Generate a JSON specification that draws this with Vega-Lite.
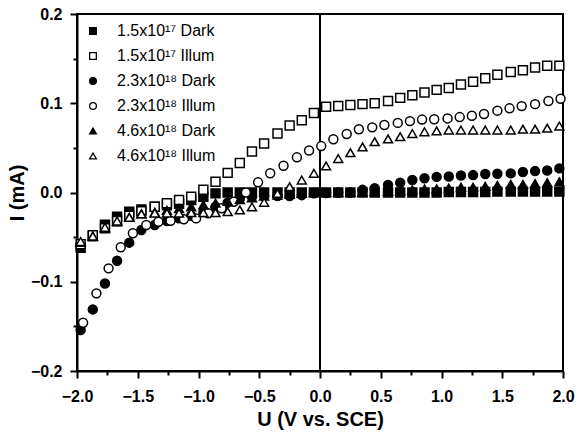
{
  "$schema": "https://vega.github.io/schema/vega-lite/v6.json",
  "autosize": {"type": "none"},
  "padding": {"left": 77, "top": 14, "right": 15, "bottom": 63},
  "width": 486,
  "height": 357,
  "config": {
    "view": {"stroke": "black", "strokeWidth": 2},
    "font": "Liberation Sans",
    "axis": {"grid": false, "labelFlush": false, "labelOverlap": false, "domainColor": "black", "domainWidth": 2, "tickColor": "black", "tickWidth": 2, "labelColor": "black", "titleColor": "black", "labelFont": "Liberation Sans", "titleFont": "Liberation Sans", "labelFontWeight": "bold", "titleFontWeight": "bold", "labelFontSize": 16, "titleFontSize": 20},
    "legend": {"orient": "none", "legendX": 8, "legendY": 9, "padding": 0, "title": null, "symbolSize": 45, "symbolStrokeColor": "black", "symbolStrokeWidth": 1.3, "labelFontSize": 16, "labelFont": "Liberation Sans", "labelColor": "black", "labelOffset": 16, "rowPadding": 9}
  },
  "datasets": {
    "vline": [{"u": 0, "lo": -0.2, "hi": 0.2}],
    "iv": [
      {"s":"1.5x10¹⁷ Dark","u":-1.97,"i":-0.062},{"s":"1.5x10¹⁷ Dark","u":-1.87,"i":-0.049},{"s":"1.5x10¹⁷ Dark","u":-1.77,"i":-0.036},{"s":"1.5x10¹⁷ Dark","u":-1.67,"i":-0.027},{"s":"1.5x10¹⁷ Dark","u":-1.57,"i":-0.0215},{"s":"1.5x10¹⁷ Dark","u":-1.47,"i":-0.019},{"s":"1.5x10¹⁷ Dark","u":-1.36,"i":-0.016},{"s":"1.5x10¹⁷ Dark","u":-1.26,"i":-0.0144},{"s":"1.5x10¹⁷ Dark","u":-1.16,"i":-0.0127},{"s":"1.5x10¹⁷ Dark","u":-1.06,"i":-0.0084},{"s":"1.5x10¹⁷ Dark","u":-0.96,"i":-0.0047},{"s":"1.5x10¹⁷ Dark","u":-0.86,"i":-0.001},{"s":"1.5x10¹⁷ Dark","u":-0.76,"i":0.0},{"s":"1.5x10¹⁷ Dark","u":-0.66,"i":0.0},{"s":"1.5x10¹⁷ Dark","u":-0.56,"i":0.0},{"s":"1.5x10¹⁷ Dark","u":-0.46,"i":0.0},{"s":"1.5x10¹⁷ Dark","u":-0.35,"i":0.0},{"s":"1.5x10¹⁷ Dark","u":-0.25,"i":0.0},{"s":"1.5x10¹⁷ Dark","u":-0.15,"i":0.0},{"s":"1.5x10¹⁷ Dark","u":-0.05,"i":0.0},{"s":"1.5x10¹⁷ Dark","u":0.05,"i":0.0},{"s":"1.5x10¹⁷ Dark","u":0.15,"i":0.0},{"s":"1.5x10¹⁷ Dark","u":0.25,"i":0.0},{"s":"1.5x10¹⁷ Dark","u":0.35,"i":0.0},{"s":"1.5x10¹⁷ Dark","u":0.45,"i":0.0},{"s":"1.5x10¹⁷ Dark","u":0.56,"i":0.0},{"s":"1.5x10¹⁷ Dark","u":0.66,"i":0.0},{"s":"1.5x10¹⁷ Dark","u":0.76,"i":0.0},{"s":"1.5x10¹⁷ Dark","u":0.86,"i":0.0},{"s":"1.5x10¹⁷ Dark","u":0.96,"i":0.0},{"s":"1.5x10¹⁷ Dark","u":1.06,"i":0.0005},{"s":"1.5x10¹⁷ Dark","u":1.16,"i":0.0005},{"s":"1.5x10¹⁷ Dark","u":1.26,"i":0.0005},{"s":"1.5x10¹⁷ Dark","u":1.36,"i":0.0005},{"s":"1.5x10¹⁷ Dark","u":1.46,"i":0.001},{"s":"1.5x10¹⁷ Dark","u":1.57,"i":0.001},{"s":"1.5x10¹⁷ Dark","u":1.67,"i":0.001},{"s":"1.5x10¹⁷ Dark","u":1.77,"i":0.001},{"s":"1.5x10¹⁷ Dark","u":1.87,"i":0.001},{"s":"1.5x10¹⁷ Dark","u":1.97,"i":0.001},
      {"s":"1.5x10¹⁷ Illum","u":-1.97,"i":-0.058},{"s":"1.5x10¹⁷ Illum","u":-1.87,"i":-0.048},{"s":"1.5x10¹⁷ Illum","u":-1.77,"i":-0.04},{"s":"1.5x10¹⁷ Illum","u":-1.67,"i":-0.032},{"s":"1.5x10¹⁷ Illum","u":-1.57,"i":-0.026},{"s":"1.5x10¹⁷ Illum","u":-1.47,"i":-0.021},{"s":"1.5x10¹⁷ Illum","u":-1.36,"i":-0.016},{"s":"1.5x10¹⁷ Illum","u":-1.26,"i":-0.012},{"s":"1.5x10¹⁷ Illum","u":-1.16,"i":-0.0084},{"s":"1.5x10¹⁷ Illum","u":-1.06,"i":-0.0047},{"s":"1.5x10¹⁷ Illum","u":-0.96,"i":0.003},{"s":"1.5x10¹⁷ Illum","u":-0.86,"i":0.012},{"s":"1.5x10¹⁷ Illum","u":-0.76,"i":0.022},{"s":"1.5x10¹⁷ Illum","u":-0.66,"i":0.033},{"s":"1.5x10¹⁷ Illum","u":-0.56,"i":0.046},{"s":"1.5x10¹⁷ Illum","u":-0.46,"i":0.055},{"s":"1.5x10¹⁷ Illum","u":-0.35,"i":0.066},{"s":"1.5x10¹⁷ Illum","u":-0.25,"i":0.075},{"s":"1.5x10¹⁷ Illum","u":-0.15,"i":0.081},{"s":"1.5x10¹⁷ Illum","u":-0.05,"i":0.089},{"s":"1.5x10¹⁷ Illum","u":0.05,"i":0.096},{"s":"1.5x10¹⁷ Illum","u":0.15,"i":0.097},{"s":"1.5x10¹⁷ Illum","u":0.25,"i":0.098},{"s":"1.5x10¹⁷ Illum","u":0.35,"i":0.099},{"s":"1.5x10¹⁷ Illum","u":0.45,"i":0.1},{"s":"1.5x10¹⁷ Illum","u":0.56,"i":0.1025},{"s":"1.5x10¹⁷ Illum","u":0.66,"i":0.106},{"s":"1.5x10¹⁷ Illum","u":0.76,"i":0.109},{"s":"1.5x10¹⁷ Illum","u":0.86,"i":0.112},{"s":"1.5x10¹⁷ Illum","u":0.96,"i":0.115},{"s":"1.5x10¹⁷ Illum","u":1.06,"i":0.117},{"s":"1.5x10¹⁷ Illum","u":1.16,"i":0.121},{"s":"1.5x10¹⁷ Illum","u":1.26,"i":0.124},{"s":"1.5x10¹⁷ Illum","u":1.36,"i":0.128},{"s":"1.5x10¹⁷ Illum","u":1.46,"i":0.132},{"s":"1.5x10¹⁷ Illum","u":1.57,"i":0.135},{"s":"1.5x10¹⁷ Illum","u":1.67,"i":0.137},{"s":"1.5x10¹⁷ Illum","u":1.77,"i":0.14},{"s":"1.5x10¹⁷ Illum","u":1.87,"i":0.142},{"s":"1.5x10¹⁷ Illum","u":1.97,"i":0.142},
      {"s":"2.3x10¹⁸ Dark","u":-1.97,"i":-0.154},{"s":"2.3x10¹⁸ Dark","u":-1.87,"i":-0.131},{"s":"2.3x10¹⁸ Dark","u":-1.77,"i":-0.102},{"s":"2.3x10¹⁸ Dark","u":-1.67,"i":-0.0764},{"s":"2.3x10¹⁸ Dark","u":-1.57,"i":-0.0562},{"s":"2.3x10¹⁸ Dark","u":-1.47,"i":-0.042},{"s":"2.3x10¹⁸ Dark","u":-1.36,"i":-0.0364},{"s":"2.3x10¹⁸ Dark","u":-1.26,"i":-0.032},{"s":"2.3x10¹⁸ Dark","u":-1.16,"i":-0.029},{"s":"2.3x10¹⁸ Dark","u":-1.06,"i":-0.026},{"s":"2.3x10¹⁸ Dark","u":-0.96,"i":-0.022},{"s":"2.3x10¹⁸ Dark","u":-0.86,"i":-0.016},{"s":"2.3x10¹⁸ Dark","u":-0.76,"i":-0.0114},{"s":"2.3x10¹⁸ Dark","u":-0.66,"i":-0.007},{"s":"2.3x10¹⁸ Dark","u":-0.56,"i":-0.0047},{"s":"2.3x10¹⁸ Dark","u":-0.46,"i":-0.004},{"s":"2.3x10¹⁸ Dark","u":-0.35,"i":-0.004},{"s":"2.3x10¹⁸ Dark","u":-0.25,"i":-0.004},{"s":"2.3x10¹⁸ Dark","u":-0.15,"i":-0.003},{"s":"2.3x10¹⁸ Dark","u":-0.05,"i":-0.001},{"s":"2.3x10¹⁸ Dark","u":0.05,"i":-0.0005},{"s":"2.3x10¹⁸ Dark","u":0.15,"i":0.0},{"s":"2.3x10¹⁸ Dark","u":0.25,"i":0.0},{"s":"2.3x10¹⁸ Dark","u":0.35,"i":0.003},{"s":"2.3x10¹⁸ Dark","u":0.45,"i":0.0047},{"s":"2.3x10¹⁸ Dark","u":0.56,"i":0.0084},{"s":"2.3x10¹⁸ Dark","u":0.66,"i":0.011},{"s":"2.3x10¹⁸ Dark","u":0.76,"i":0.014},{"s":"2.3x10¹⁸ Dark","u":0.86,"i":0.016},{"s":"2.3x10¹⁸ Dark","u":0.96,"i":0.0175},{"s":"2.3x10¹⁸ Dark","u":1.06,"i":0.018},{"s":"2.3x10¹⁸ Dark","u":1.16,"i":0.019},{"s":"2.3x10¹⁸ Dark","u":1.26,"i":0.0195},{"s":"2.3x10¹⁸ Dark","u":1.36,"i":0.0207},{"s":"2.3x10¹⁸ Dark","u":1.46,"i":0.021},{"s":"2.3x10¹⁸ Dark","u":1.57,"i":0.0214},{"s":"2.3x10¹⁸ Dark","u":1.67,"i":0.023},{"s":"2.3x10¹⁸ Dark","u":1.77,"i":0.024},{"s":"2.3x10¹⁸ Dark","u":1.87,"i":0.0247},{"s":"2.3x10¹⁸ Dark","u":1.97,"i":0.027},
      {"s":"2.3x10¹⁸ Illum","u":-1.95,"i":-0.146},{"s":"2.3x10¹⁸ Illum","u":-1.84,"i":-0.113},{"s":"2.3x10¹⁸ Illum","u":-1.74,"i":-0.085},{"s":"2.3x10¹⁸ Illum","u":-1.64,"i":-0.0614},{"s":"2.3x10¹⁸ Illum","u":-1.54,"i":-0.0457},{"s":"2.3x10¹⁸ Illum","u":-1.43,"i":-0.0364},{"s":"2.3x10¹⁸ Illum","u":-1.33,"i":-0.0327},{"s":"2.3x10¹⁸ Illum","u":-1.23,"i":-0.0316},{"s":"2.3x10¹⁸ Illum","u":-1.12,"i":-0.03},{"s":"2.3x10¹⁸ Illum","u":-1.02,"i":-0.029},{"s":"2.3x10¹⁸ Illum","u":-0.92,"i":-0.0233},{"s":"2.3x10¹⁸ Illum","u":-0.81,"i":-0.0177},{"s":"2.3x10¹⁸ Illum","u":-0.71,"i":-0.0103},{"s":"2.3x10¹⁸ Illum","u":-0.61,"i":0.0},{"s":"2.3x10¹⁸ Illum","u":-0.51,"i":0.0114},{"s":"2.3x10¹⁸ Illum","u":-0.41,"i":0.0215},{"s":"2.3x10¹⁸ Illum","u":-0.3,"i":0.03},{"s":"2.3x10¹⁸ Illum","u":-0.19,"i":0.0394},{"s":"2.3x10¹⁸ Illum","u":-0.09,"i":0.047},{"s":"2.3x10¹⁸ Illum","u":0.01,"i":0.052},{"s":"2.3x10¹⁸ Illum","u":0.11,"i":0.0596},{"s":"2.3x10¹⁸ Illum","u":0.22,"i":0.0655},{"s":"2.3x10¹⁸ Illum","u":0.32,"i":0.0708},{"s":"2.3x10¹⁸ Illum","u":0.43,"i":0.073},{"s":"2.3x10¹⁸ Illum","u":0.53,"i":0.0756},{"s":"2.3x10¹⁸ Illum","u":0.64,"i":0.078},{"s":"2.3x10¹⁸ Illum","u":0.74,"i":0.08},{"s":"2.3x10¹⁸ Illum","u":0.84,"i":0.0817},{"s":"2.3x10¹⁸ Illum","u":0.94,"i":0.082},{"s":"2.3x10¹⁸ Illum","u":1.05,"i":0.083},{"s":"2.3x10¹⁸ Illum","u":1.15,"i":0.0845},{"s":"2.3x10¹⁸ Illum","u":1.25,"i":0.086},{"s":"2.3x10¹⁸ Illum","u":1.35,"i":0.088},{"s":"2.3x10¹⁸ Illum","u":1.46,"i":0.0917},{"s":"2.3x10¹⁸ Illum","u":1.56,"i":0.0943},{"s":"2.3x10¹⁸ Illum","u":1.66,"i":0.0968},{"s":"2.3x10¹⁸ Illum","u":1.77,"i":0.099},{"s":"2.3x10¹⁸ Illum","u":1.88,"i":0.1025},{"s":"2.3x10¹⁸ Illum","u":1.98,"i":0.105},
      {"s":"4.6x10¹⁸ Dark","u":-1.97,"i":-0.056},{"s":"4.6x10¹⁸ Dark","u":-1.87,"i":-0.049},{"s":"4.6x10¹⁸ Dark","u":-1.77,"i":-0.04},{"s":"4.6x10¹⁸ Dark","u":-1.67,"i":-0.033},{"s":"4.6x10¹⁸ Dark","u":-1.57,"i":-0.028},{"s":"4.6x10¹⁸ Dark","u":-1.47,"i":-0.024},{"s":"4.6x10¹⁸ Dark","u":-1.36,"i":-0.022},{"s":"4.6x10¹⁸ Dark","u":-1.26,"i":-0.02},{"s":"4.6x10¹⁸ Dark","u":-1.16,"i":-0.018},{"s":"4.6x10¹⁸ Dark","u":-1.06,"i":-0.016},{"s":"4.6x10¹⁸ Dark","u":-0.96,"i":-0.014},{"s":"4.6x10¹⁸ Dark","u":-0.86,"i":-0.012},{"s":"4.6x10¹⁸ Dark","u":-0.76,"i":-0.01},{"s":"4.6x10¹⁸ Dark","u":-0.66,"i":-0.008},{"s":"4.6x10¹⁸ Dark","u":-0.56,"i":-0.006},{"s":"4.6x10¹⁸ Dark","u":-0.46,"i":-0.004},{"s":"4.6x10¹⁸ Dark","u":-0.35,"i":-0.003},{"s":"4.6x10¹⁸ Dark","u":-0.25,"i":-0.002},{"s":"4.6x10¹⁸ Dark","u":-0.15,"i":-0.001},{"s":"4.6x10¹⁸ Dark","u":-0.05,"i":0.0},{"s":"4.6x10¹⁸ Dark","u":0.05,"i":0.0},{"s":"4.6x10¹⁸ Dark","u":0.15,"i":0.0},{"s":"4.6x10¹⁸ Dark","u":0.25,"i":0.0},{"s":"4.6x10¹⁸ Dark","u":0.35,"i":0.0},{"s":"4.6x10¹⁸ Dark","u":0.45,"i":0.001},{"s":"4.6x10¹⁸ Dark","u":0.56,"i":0.0015},{"s":"4.6x10¹⁸ Dark","u":0.66,"i":0.002},{"s":"4.6x10¹⁸ Dark","u":0.76,"i":0.003},{"s":"4.6x10¹⁸ Dark","u":0.86,"i":0.004},{"s":"4.6x10¹⁸ Dark","u":0.96,"i":0.004},{"s":"4.6x10¹⁸ Dark","u":1.06,"i":0.005},{"s":"4.6x10¹⁸ Dark","u":1.16,"i":0.006},{"s":"4.6x10¹⁸ Dark","u":1.26,"i":0.006},{"s":"4.6x10¹⁸ Dark","u":1.36,"i":0.007},{"s":"4.6x10¹⁸ Dark","u":1.46,"i":0.008},{"s":"4.6x10¹⁸ Dark","u":1.57,"i":0.009},{"s":"4.6x10¹⁸ Dark","u":1.67,"i":0.009},{"s":"4.6x10¹⁸ Dark","u":1.77,"i":0.01},{"s":"4.6x10¹⁸ Dark","u":1.87,"i":0.011},{"s":"4.6x10¹⁸ Dark","u":1.97,"i":0.012},
      {"s":"4.6x10¹⁸ Illum","u":-1.97,"i":-0.055},{"s":"4.6x10¹⁸ Illum","u":-1.87,"i":-0.049},{"s":"4.6x10¹⁸ Illum","u":-1.77,"i":-0.039},{"s":"4.6x10¹⁸ Illum","u":-1.67,"i":-0.032},{"s":"4.6x10¹⁸ Illum","u":-1.57,"i":-0.028},{"s":"4.6x10¹⁸ Illum","u":-1.47,"i":-0.024},{"s":"4.6x10¹⁸ Illum","u":-1.36,"i":-0.023},{"s":"4.6x10¹⁸ Illum","u":-1.26,"i":-0.023},{"s":"4.6x10¹⁸ Illum","u":-1.16,"i":-0.023},{"s":"4.6x10¹⁸ Illum","u":-1.06,"i":-0.0226},{"s":"4.6x10¹⁸ Illum","u":-0.96,"i":-0.0226},{"s":"4.6x10¹⁸ Illum","u":-0.86,"i":-0.0226},{"s":"4.6x10¹⁸ Illum","u":-0.76,"i":-0.0215},{"s":"4.6x10¹⁸ Illum","u":-0.66,"i":-0.0196},{"s":"4.6x10¹⁸ Illum","u":-0.56,"i":-0.016},{"s":"4.6x10¹⁸ Illum","u":-0.46,"i":-0.011},{"s":"4.6x10¹⁸ Illum","u":-0.35,"i":-0.001},{"s":"4.6x10¹⁸ Illum","u":-0.25,"i":0.0065},{"s":"4.6x10¹⁸ Illum","u":-0.15,"i":0.014},{"s":"4.6x10¹⁸ Illum","u":-0.05,"i":0.0215},{"s":"4.6x10¹⁸ Illum","u":0.05,"i":0.0297},{"s":"4.6x10¹⁸ Illum","u":0.15,"i":0.038},{"s":"4.6x10¹⁸ Illum","u":0.25,"i":0.0446},{"s":"4.6x10¹⁸ Illum","u":0.35,"i":0.051},{"s":"4.6x10¹⁸ Illum","u":0.45,"i":0.057},{"s":"4.6x10¹⁸ Illum","u":0.56,"i":0.06},{"s":"4.6x10¹⁸ Illum","u":0.66,"i":0.0625},{"s":"4.6x10¹⁸ Illum","u":0.76,"i":0.066},{"s":"4.6x10¹⁸ Illum","u":0.86,"i":0.068},{"s":"4.6x10¹⁸ Illum","u":0.96,"i":0.069},{"s":"4.6x10¹⁸ Illum","u":1.06,"i":0.07},{"s":"4.6x10¹⁸ Illum","u":1.16,"i":0.07},{"s":"4.6x10¹⁸ Illum","u":1.26,"i":0.07},{"s":"4.6x10¹⁸ Illum","u":1.36,"i":0.07},{"s":"4.6x10¹⁸ Illum","u":1.46,"i":0.07},{"s":"4.6x10¹⁸ Illum","u":1.57,"i":0.07},{"s":"4.6x10¹⁸ Illum","u":1.67,"i":0.071},{"s":"4.6x10¹⁸ Illum","u":1.77,"i":0.071},{"s":"4.6x10¹⁸ Illum","u":1.87,"i":0.072},{"s":"4.6x10¹⁸ Illum","u":1.97,"i":0.0745}
    ]
  },
  "layer": [
    {
      "data": {"name": "vline"},
      "mark": {"type": "rule", "color": "black", "strokeWidth": 2},
      "encoding": {
        "x": {"field": "u", "type": "quantitative", "scale": {"domain": [-2, 2], "nice": false, "zero": false},
              "axis": {"orient": "bottom", "values": [-1.75, -1.25, -0.75, -0.25, 0.25, 0.75, 1.25, 1.75], "labels": false, "title": null, "domain": false, "tickSize": 4}},
        "y": {"field": "lo", "type": "quantitative", "scale": {"domain": [-0.2, 0.2], "nice": false, "zero": false},
              "axis": {"orient": "left", "values": [-0.15, -0.05, 0.05, 0.15], "labels": false, "title": null, "domain": false, "tickSize": 4}},
        "y2": {"field": "hi"}
      }
    },
    {
      "data": {"name": "iv"},
      "mark": {"type": "point", "filled": true, "strokeWidth": 1.5, "opacity": 1, "size": 80},
      "encoding": {
        "x": {"field": "u", "type": "quantitative", "scale": {"domain": [-2, 2], "nice": false, "zero": false},
              "axis": {"orient": "bottom", "values": [-2, -1.5, -1, -0.5, 0, 0.5, 1, 1.5, 2], "format": ".1f", "title": "U (V vs. SCE)", "tickSize": 7, "labelPadding": 10, "titlePadding": 5}},
        "y": {"field": "i", "type": "quantitative", "scale": {"domain": [-0.2, 0.2], "nice": false, "zero": false},
              "axis": {"orient": "left", "values": [-0.2, -0.1, 0, 0.1, 0.2], "format": ".1f", "title": "I (mA)", "tickSize": 7, "labelPadding": 8, "titlePadding": 3}},
        "shape": {"field": "s", "type": "nominal", "title": null,
                  "scale": {"domain": ["1.5x10¹⁷ Dark", "1.5x10¹⁷ Illum", "2.3x10¹⁸ Dark", "2.3x10¹⁸ Illum", "4.6x10¹⁸ Dark", "4.6x10¹⁸ Illum"],
                            "range": ["square", "square", "circle", "circle", "triangle-up", "triangle-up"]}},
        "fill": {"field": "s", "type": "nominal", "title": null,
                 "scale": {"domain": ["1.5x10¹⁷ Dark", "1.5x10¹⁷ Illum", "2.3x10¹⁸ Dark", "2.3x10¹⁸ Illum", "4.6x10¹⁸ Dark", "4.6x10¹⁸ Illum"],
                           "range": ["black", "white", "black", "white", "black", "white"]}},
        "stroke": {"field": "s", "type": "nominal", "title": null,
                   "scale": {"domain": ["1.5x10¹⁷ Dark", "1.5x10¹⁷ Illum", "2.3x10¹⁸ Dark", "2.3x10¹⁸ Illum", "4.6x10¹⁸ Dark", "4.6x10¹⁸ Illum"],
                             "range": ["black", "black", "black", "black", "black", "black"]}}
      }
    }
  ],
  "resolve": {"axis": {"x": "independent", "y": "independent"}}
}
